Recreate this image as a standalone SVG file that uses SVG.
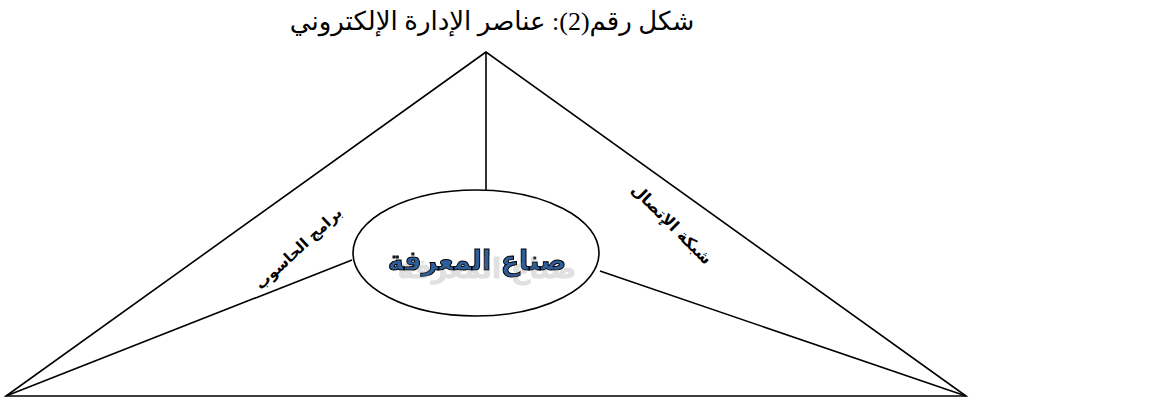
<svg xmlns="http://www.w3.org/2000/svg" width="1151" height="398" viewBox="0 0 1151 398">
<style>
.ln{stroke:#000;stroke-width:1.6;fill:none}
.ar{font-family:"DejaVu Sans",sans-serif;font-weight:bold;direction:rtl}
</style>
<defs>
<filter id="sh" x="-20%" y="-50%" width="140%" height="200%">
<feOffset in="SourceAlpha" dx="10" dy="8" result="o"/>
<feColorMatrix in="o" type="matrix" values="0 0 0 0 0.72  0 0 0 0 0.72  0 0 0 0 0.72  0 0 0 0.9 0" result="g"/>
<feMerge><feMergeNode in="g"/><feMergeNode in="SourceGraphic"/></feMerge>
</filter>
</defs>
<rect width="1151" height="398" fill="#fff"/>
<text x="492" y="30" font-family="'Liberation Serif','DejaVu Sans',serif" font-size="26" text-anchor="middle" direction="rtl">شكل رقم(2): عناصر الإدارة الإلكتروني</text>
<g id="connectors">
<polygon class="ln" points="486,52 6,396 966,396"/>
<line class="ln" x1="486" y1="52" x2="486" y2="191"/>
<line class="ln" x1="352" y1="260" x2="6" y2="396"/>
<line class="ln" x1="600" y1="271" x2="966" y2="396"/>
</g>
<g id="center">
<ellipse class="ln" cx="476" cy="253" rx="123" ry="63"/>
<text class="ar" x="477" y="270" font-size="27" text-anchor="middle" fill="#2f5f9a" stroke="#000" stroke-width="1" filter="url(#sh)">صناع المعرفة</text>
</g>
<g id="software">
<text class="ar" x="0" y="0" font-size="15" text-anchor="middle" transform="translate(302,252) rotate(-43)">برامج الحاسوب</text>
</g>
<g id="network">
<text class="ar" x="0" y="0" font-size="16" text-anchor="middle" transform="translate(668,228) rotate(45)">شبكة الإتصال</text>
</g>
</svg>
